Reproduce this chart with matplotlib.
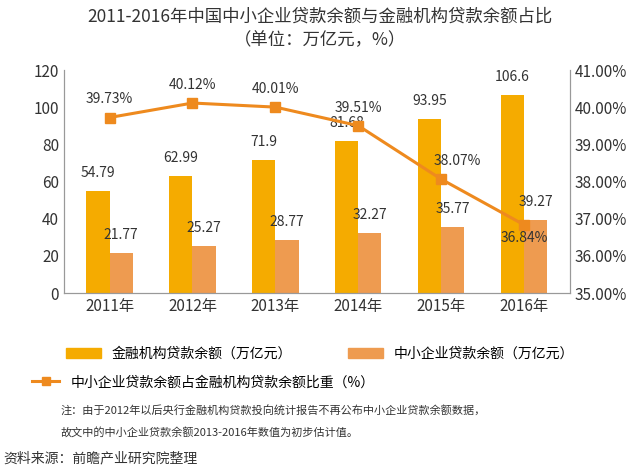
import numpy as np
import matplotlib.pyplot as plt
from matplotlib.lines import Line2D
from matplotlib.patches import Patch

plt.rcParams["font.family"] = ["Noto Sans CJK SC"]

years = ["2011年", "2012年", "2013年", "2014年", "2015年", "2016年"]
finance_loans = [54.79, 62.99, 71.9, 81.68, 93.95, 106.6]
sme_loans = [21.77, 25.27, 28.77, 32.27, 35.77, 39.27]
sme_ratio = [39.73, 40.12, 40.01, 39.51, 38.07, 36.84]

c_bar1 = "#F5AB00"
c_bar2 = "#EE9B50"
c_line = "#EE8A1E"
c_text = "#333333"

fig = plt.figure(figsize=(6.4, 4.69), dpi=100)
ax = fig.add_axes([0.1, 0.375, 0.79, 0.475])
ax2 = ax.twinx()

x = np.arange(len(years))
w = 0.28
ax.bar(x - w / 2, finance_loans, w, color=c_bar1)
ax.bar(x + w / 2, sme_loans, w, color=c_bar2)
for i in x:
    ax.text(i - w / 2, finance_loans[i] + 6, f"{finance_loans[i]:g}", ha="center",
            va="bottom", fontsize=10, color=c_text)
    ax.text(i + w / 2, sme_loans[i] + 6, f"{sme_loans[i]:g}", ha="center",
            va="bottom", fontsize=10, color=c_text)

ax2.plot(x, sme_ratio, color=c_line, lw=2.2, marker="s", ms=7)
for i in x:
    dx = 0.2 if i == 4 else 0
    dy = 0.3 if i < 5 else -0.55
    ax2.text(i + dx, sme_ratio[i] + dy, f"{sme_ratio[i]:.2f}%", ha="center",
             va="bottom", fontsize=10, color=c_text)

ax.set_ylim(0, 120)
ax.set_yticks(range(0, 121, 20))
ax2.set_ylim(35, 41)
ax2.set_yticks(np.arange(35, 41.1, 1))
ax2.set_yticklabels([f"{v:.2f}%" for v in np.arange(35, 41.1, 1)])
ax.set_xlim(-0.55, 5.55)
ax.set_xticks(x)
ax.set_xticklabels(years)
for a in (ax, ax2):
    a.tick_params(labelsize=11, colors=c_text, length=0)
    a.spines["top"].set_visible(False)
    for s in ("left", "right", "bottom"):
        a.spines[s].set_color("#999999")

fig.text(0.5, 0.965, "2011-2016年中国中小企业贷款余额与金融机构贷款余额占比",
         ha="center", va="center", fontsize=12.5, color=c_text)
fig.text(0.5, 0.915, "（单位：万亿元，%）", ha="center", va="center",
         fontsize=12.5, color=c_text)

handles = [Patch(color=c_bar1), Patch(color=c_bar2)]
fig.legend(handles, ["金融机构贷款余额（万亿元）", "中小企业贷款余额（万亿元）"],
           loc="center", bbox_to_anchor=(0.5, 0.245), ncol=2, frameon=False,
           fontsize=10, columnspacing=4, handlelength=2.5)
fig.legend([Line2D([], [], color=c_line, lw=2.2, marker="s", ms=6)],
           ["中小企业贷款余额占金融机构贷款余额比重（%）"], loc="center left",
           bbox_to_anchor=(0.03, 0.185), frameon=False, fontsize=10)

fig.text(0.095, 0.115, "注：由于2012年以后央行金融机构贷款投向统计报告不再公布中小企业贷款余额数据，",
         fontsize=8, color=c_text)
fig.text(0.095, 0.07, "故文中的中小企业贷款余额2013-2016年数值为初步估计值。",
         fontsize=8, color=c_text)
fig.text(0.005, 0.015, "资料来源：前瞻产业研究院整理", fontsize=10, color=c_text)

fig.savefig("out.png", dpi=100)
